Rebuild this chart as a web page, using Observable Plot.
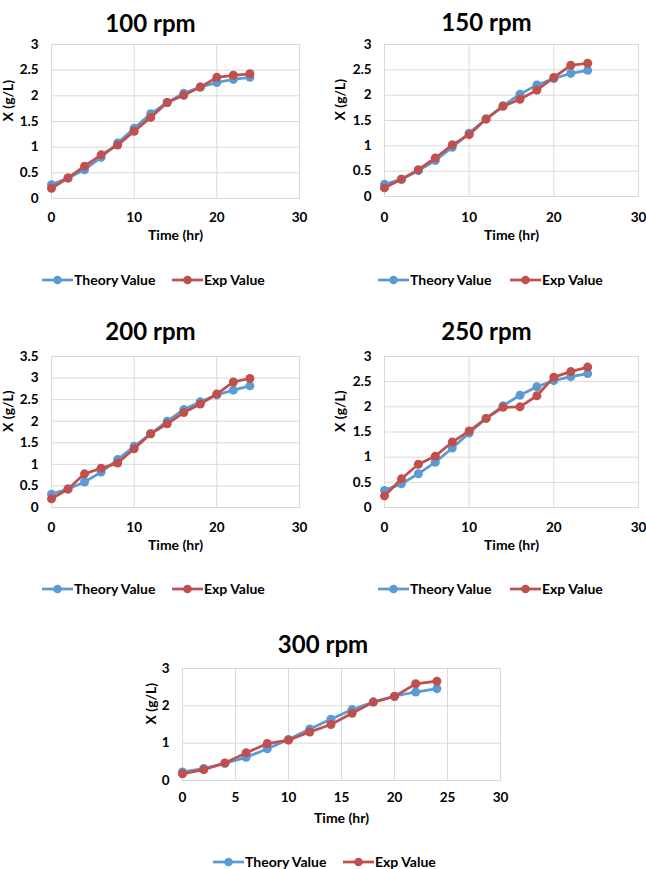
<!DOCTYPE html>
<html>
<head>
<meta charset="utf-8">
<script src="https://cdn.jsdelivr.net/npm/d3@7"></script>
<script src="https://cdn.jsdelivr.net/npm/@observablehq/plot@0.6"></script>
<style>
  body { margin: 0; background: #fff; }
  #root { position: relative; width: 646px; height: 869px; overflow: hidden; background: #fff;
          font-family: Lato, "Open Sans", sans-serif; font-weight: 700; color: #000; }
  .panel { position: absolute; }
  .legend { position: absolute; height: 14px; font-size: 14px; font-weight: 700; line-height: 14px; white-space: nowrap; }
  .legend span.item { position: absolute; top: 0; display: flex; align-items: center; }
  .legend svg { display: block; margin-right: 1px; }
</style>
</head>
<body>
<div id="root"></div>
<script>
// ---- data ----
const time = [0, 2, 4, 6, 8, 10, 12, 14, 16, 18, 20, 22, 24];
const seriesNames = ["Theory Value", "Exp Value"];
const titles = ["100 rpm", "150 rpm", "200 rpm", "250 rpm", "300 rpm"];

const theory100 = [0.27, 0.40, 0.56, 0.80, 1.08, 1.37, 1.65, 1.87, 2.05, 2.17, 2.26, 2.32, 2.36];
const exp100    = [0.20, 0.40, 0.63, 0.85, 1.04, 1.31, 1.58, 1.87, 2.01, 2.17, 2.36, 2.40, 2.43];
const theory150 = [0.24, 0.34, 0.51, 0.71, 0.97, 1.25, 1.53, 1.79, 2.02, 2.20, 2.33, 2.43, 2.49];
const exp150    = [0.17, 0.34, 0.53, 0.76, 1.02, 1.22, 1.53, 1.78, 1.92, 2.10, 2.35, 2.59, 2.63];
const theory200 = [0.31, 0.43, 0.59, 0.82, 1.11, 1.42, 1.71, 2.00, 2.27, 2.45, 2.61, 2.72, 2.82];
const exp200    = [0.20, 0.43, 0.78, 0.91, 1.03, 1.36, 1.71, 1.94, 2.20, 2.40, 2.63, 2.91, 2.99];
const theory250 = [0.34, 0.47, 0.67, 0.90, 1.18, 1.48, 1.77, 2.02, 2.23, 2.40, 2.52, 2.60, 2.66];
const exp250    = [0.23, 0.57, 0.86, 1.02, 1.30, 1.52, 1.77, 1.99, 2.00, 2.22, 2.59, 2.70, 2.79];
const theory300 = [0.23, 0.32, 0.46, 0.62, 0.85, 1.10, 1.38, 1.64, 1.90, 2.10, 2.26, 2.37, 2.46];
const exp300    = [0.18, 0.29, 0.47, 0.74, 0.99, 1.08, 1.30, 1.50, 1.80, 2.10, 2.25, 2.59, 2.66];

const xTicksA = [0, 10, 20, 30];
const xTicksB = [0, 5, 10, 15, 20, 25, 30];
const yTicks3 = [0, 0.5, 1, 1.5, 2, 2.5, 3];
const yTicks35 = [0, 0.5, 1, 1.5, 2, 2.5, 3, 3.5];
const yTicksInt = [0, 1, 2, 3];

const xLabel = "Time (hr)";
const yLabel = "X (g/L)";

// ---- styles / layout ----
const blue = "#5B9BD5";
const red = "#C0504D";
const grid = "#D9D9D9";
const font = 'Lato, "Open Sans", sans-serif';

const panels = [
  { title: titles[0], theory: theory100, exp: exp100, xTicks: xTicksA, yTicks: yTicks3, yMax: 3,
    left: 0, top: 0, W: 323, H: 260, mL: 51, mR: 24, mT: 44, mB: 62,
    titleDx: -25, titleDy: -30, xPad: 13.5, xLabDy: 41, yLabDx: -43,
    legend: { top: 273, theory: 42, exp: 172 } },
  { title: titles[1], theory: theory150, exp: exp150, xTicks: xTicksA, yTicks: yTicks3, yMax: 3,
    left: 323, top: 0, W: 323, H: 260, mL: 61, mR: 8, mT: 44, mB: 64,
    titleDx: -25, titleDy: -31, xPad: 15.5, xLabDy: 43, yLabDx: -44,
    legend: { top: 273, theory: 378, exp: 510 } },
  { title: titles[2], theory: theory200, exp: exp200, xTicks: xTicksA, yTicks: yTicks35, yMax: 3.5,
    left: 0, top: 290, W: 323, H: 270, mL: 51, mR: 24, mT: 66, mB: 53,
    titleDx: -25, titleDy: -34, xPad: 14.5, xLabDy: 42, yLabDx: -43,
    legend: { top: 582, theory: 42, exp: 172 } },
  { title: titles[3], theory: theory250, exp: exp250, xTicks: xTicksA, yTicks: yTicks3, yMax: 3,
    left: 323, top: 290, W: 323, H: 270, mL: 61, mR: 8, mT: 66, mB: 53,
    titleDx: -25, titleDy: -34, xPad: 14.5, xLabDy: 42, yLabDx: -44,
    legend: { top: 582, theory: 378, exp: 510 } },
  { title: titles[4], theory: theory300, exp: exp300, xTicks: xTicksB, yTicks: yTicksInt, yMax: 3,
    left: 140, top: 590, W: 380, H: 250, mL: 42, mR: 20, mT: 78, mB: 60,
    titleDx: -18.5, titleDy: -33, xPad: 11.5, xLabDy: 42, yLabDx: -31,
    legend: { top: 855, theory: 213, exp: 343 } }
];

const root = document.getElementById("root");

function swatch(color) {
  const s = d3.create("svg").attr("width", 31).attr("height", 12);
  s.append("line").attr("x1", 0).attr("x2", 31).attr("y1", 6).attr("y2", 6)
    .attr("stroke", color).attr("stroke-width", 2.75);
  s.append("circle").attr("cx", 15.5).attr("cy", 6).attr("r", 4.3).attr("fill", color);
  return s.node();
}

for (const p of panels) {
  const rows = (vals, series) => time.map((t, i) => ({ t, v: vals[i], series }));
  const th = rows(p.theory, seriesNames[0]);
  const ex = rows(p.exp, seriesNames[1]);

  const chart = Plot.plot({
    width: p.W, height: p.H,
    marginLeft: p.mL, marginRight: p.mR, marginTop: p.mT, marginBottom: p.mB,
    style: { fontFamily: font, fontSize: "13.5px", fontWeight: "700", color: "#000", background: "transparent", overflow: "visible" },
    x: { domain: [0, 30], label: null },
    y: { domain: [0, p.yMax], label: null },
    marks: [
      Plot.gridX(p.xTicks, { stroke: grid, strokeOpacity: 1, strokeWidth: 1 }),
      Plot.gridY(p.yTicks, { stroke: grid, strokeOpacity: 1, strokeWidth: 1 }),
      Plot.frame({ stroke: grid, strokeWidth: 1 }),
      Plot.axisX({ ticks: p.xTicks, tickSize: 0, tickPadding: p.xPad, tickFormat: d => String(d), label: null, fill: "#000" }),
      Plot.axisY({ ticks: p.yTicks, tickSize: 0, tickPadding: 13, tickFormat: d => String(d), label: null, fill: "#000" }),
      Plot.line(th, { x: "t", y: "v", stroke: blue, strokeWidth: 2.75 }),
      Plot.dot(th, { x: "t", y: "v", r: 4.5, fill: blue, stroke: "none" }),
      Plot.line(ex, { x: "t", y: "v", stroke: red, strokeWidth: 2.75 }),
      Plot.dot(ex, { x: "t", y: "v", r: 4.5, fill: red, stroke: "none" }),
      Plot.text([p.title], { frameAnchor: "top", dx: p.titleDx, dy: p.titleDy, text: d => d, fontSize: 24, fontWeight: 700, fill: "#000" }),
      Plot.text([xLabel], { frameAnchor: "bottom", dy: p.xLabDy, text: d => d, fontSize: 14, fontWeight: 700, fill: "#000" }),
      Plot.text([yLabel], { frameAnchor: "left", dx: p.yLabDx, rotate: -90, text: d => d, fontSize: 14, fontWeight: 700, fill: "#000" })
    ]
  });
  chart.classList.add("panel");
  chart.style.left = p.left + "px";
  chart.style.top = p.top + "px";
  root.appendChild(chart);

  const lg = document.createElement("div");
  lg.className = "legend";
  lg.style.left = "0px";
  lg.style.top = p.legend.top + "px";
  [[seriesNames[0], blue, p.legend.theory], [seriesNames[1], red, p.legend.exp]].forEach(([name, color, x]) => {
    const it = document.createElement("span");
    it.className = "item";
    it.style.left = x + "px";
    it.appendChild(swatch(color));
    const tx = document.createElement("span");
    tx.textContent = name;
    it.appendChild(tx);
    lg.appendChild(it);
  });
  root.appendChild(lg);
}
</script>
</body>
</html>
